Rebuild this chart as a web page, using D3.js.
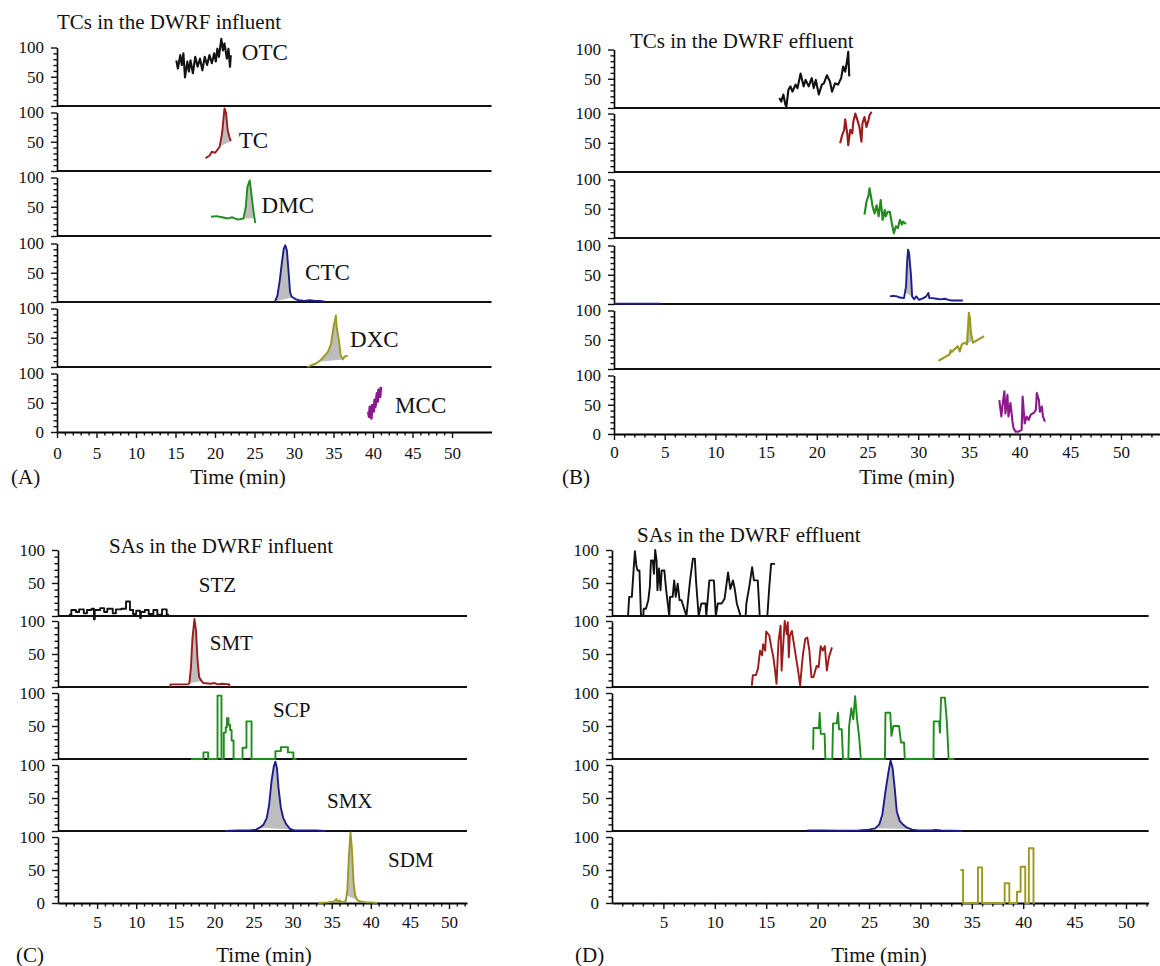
<!DOCTYPE html>
<html lang="en">
<head>
<meta charset="utf-8">
<title>TCs and SAs in the DWRF influent and effluent</title>
<script src="https://cdn.jsdelivr.net/npm/d3@7"></script>
<style>
  body { margin: 0; background: #fff; }
  svg { display: block; font-family: "Liberation Serif", "Times New Roman", serif; }
  .tick text { font-size: 17px; font-family: "Liberation Serif", "Times New Roman", serif; fill: #111; }
</style>
</head>
<body>
<script>

// ---- data: [time (min), relative abundance (%)] ----

// (A) TCs, influent
var aNames = ["OTC", "TC", "DMC", "CTC", "DXC", "MCC"];
var otcIn = [[15.1,78],[15.3,64],[15.6,87],[15.8,70],[16.0,90],[16.2,49],[16.5,76],[16.7,59],[16.9,78],[17.2,56],[17.5,84],[17.8,67],[18.1,81],[18.4,61],[18.7,84],[19.0,70],[19.3,87],[19.6,73],[19.9,90],[20.1,76],[20.3,98],[20.5,84],[20.8,115],[21.0,95],[21.2,107],[21.5,81],[21.7,98],[21.9,67],[22.0,87]];
var tcIn = [[18.8,22],[19.3,26],[19.6,33],[20.0,31],[20.3,36],[20.6,42],[20.9,65],[21.1,93],[21.2,107],[21.4,99],[21.6,70],[21.8,59],[22.0,51]];
var dmcIn = [[19.5,33],[20.2,34],[20.9,32],[21.6,30],[22.2,32],[22.9,28],[23.6,30],[23.9,50],[24.1,84],[24.4,95],[24.5,84],[24.7,61],[24.9,39],[25.1,22]];
var ctcIn = [[27.6,1],[27.9,11],[28.2,37],[28.5,71],[28.7,91],[28.9,97],[29.1,88],[29.3,54],[29.5,17],[29.7,9],[30.2,5],[30.6,3],[31.3,2],[32.0,3],[32.7,2],[33.3,2],[33.8,1]];
var dxcIn = [[31.7,0],[32.2,3],[32.8,6],[33.3,11],[33.8,18],[34.3,26],[34.7,40],[35.0,68],[35.3,88],[35.4,68],[35.7,45],[35.9,20],[36.2,13],[36.4,18],[36.8,19]];
var mccIn = [[39.4,35],[39.5,26],[39.6,43],[39.8,23],[39.9,46],[40.1,35],[40.2,55],[40.3,43],[40.5,66],[40.6,52],[40.7,72],[40.9,60],[41.0,77]];
var aLabelPos = [[23.4,79],[23.0,39],[25.9,39],[31.4,38],[37.1,34],[42.8,32]];

// (B) TCs, effluent
var otcEff = [[16.3,17],[16.5,11],[16.7,23],[16.9,6],[17.0,2],[17.2,31],[17.4,37],[17.6,28],[17.9,40],[18.1,34],[18.4,59],[18.7,37],[18.9,48],[19.2,37],[19.5,51],[19.7,34],[19.9,48],[20.2,23],[20.5,40],[20.7,42],[21.0,56],[21.3,45],[21.5,28],[21.8,42],[22.1,40],[22.4,51],[22.6,71],[22.8,62],[23.0,82],[23.1,96],[23.2,54]];
var tcEff = [[22.3,49],[22.5,63],[22.7,72],[22.8,90],[23.0,66],[23.1,46],[23.3,72],[23.5,66],[23.6,86],[23.8,100],[24.0,89],[24.2,77],[24.4,52],[24.5,83],[24.7,94],[24.9,77],[25.1,89],[25.2,97],[25.4,103]];
var dmcEff = [[24.7,40],[24.9,62],[25.1,73],[25.2,85],[25.4,65],[25.5,54],[25.7,42],[25.9,56],[26.1,37],[26.3,65],[26.5,31],[26.7,48],[26.8,37],[27.0,45],[27.2,45],[27.4,25],[27.6,8],[27.8,20],[28.0,17],[28.2,31],[28.4,23],[28.5,28],[28.8,24]];
var ctcEffLead = [[0,0.6],[4.6,0.6]];
var ctcEff = [[27.2,13],[27.5,14],[27.9,13],[28.2,11],[28.6,10],[28.8,30],[28.9,70],[29.0,93],[29.1,87],[29.3,47],[29.4,13],[29.6,8],[29.8,13],[30.1,7],[30.5,10],[30.8,13],[31.0,19],[31.1,10],[31.4,10],[31.8,9],[32.2,8],[32.6,9],[33.0,7],[33.3,6],[33.9,6],[34.4,6]];
var dxcEff = [[32.0,14],[32.4,18],[32.8,22],[33.1,25],[33.2,32],[33.3,29],[33.6,34],[33.9,39],[34.1,30],[34.3,42],[34.6,45],[34.8,42],[34.9,67],[35.0,96],[35.1,87],[35.2,62],[35.4,45],[35.6,47],[36.0,51],[36.5,56]];
var mccEff = [[38.0,58],[38.2,30],[38.3,47],[38.5,73],[38.6,35],[38.8,67],[38.9,30],[39.1,53],[39.3,21],[39.4,10],[39.6,4],[39.9,4],[40.2,7],[40.3,64],[40.5,18],[40.7,30],[40.9,24],[41.1,33],[41.4,36],[41.6,41],[41.7,70],[41.9,58],[42.0,38],[42.2,47],[42.3,30],[42.5,21]];

// (C) SAs, influent
var cNames = ["STZ", "SMT", "SCP", "SMX", "SDM"];
var stzIn = [[1.4,2],[1.7,9],[2.3,6],[2.7,10],[3.3,4],[3.7,9],[4.3,11],[4.6,-5],[4.7,9],[5.4,12],[5.9,6],[6.3,11],[7.0,4],[7.4,10],[8.1,11],[8.7,22],[9.2,9],[9.6,3],[10.0,8],[10.5,-3],[10.6,6],[11.1,9],[11.6,3],[12.2,9],[12.7,2],[13.3,10],[13.9,2],[14.2,2]];
var smtIn = [[14.3,0],[14.4,4],[16.6,4],[16.8,6],[17.0,30],[17.2,75],[17.45,103],[17.65,85],[17.85,40],[18.05,15],[18.3,10],[18.6,6],[19.5,5],[20.0,6],[20.5,4],[21.0,5],[21.9,4],[21.9,0]];
var scpIn = [[17.0,0],[18.6,10],[19.2,0],[20.4,96],[20.9,0],[21.2,40],[21.45,48],[21.6,62],[21.8,52],[22.0,44],[22.2,28],[22.45,0],[23.6,17],[24.1,57],[24.75,0],[27.8,12],[28.5,18],[29.4,10],[30.1,0],[30.5,0]];
var smxIn = [[21.4,0],[23,1],[24.5,1],[25.3,2],[25.8,5],[26.3,10],[26.7,20],[27.0,40],[27.3,75],[27.6,98],[27.8,105],[28.0,95],[28.2,65],[28.5,35],[28.8,20],[29.2,10],[29.7,3],[30.2,1],[31.5,1],[33,1],[34.2,0]];
var sdmIn = [[33.3,0],[34.5,1],[35.3,2],[35.6,6],[35.8,1],[36.0,4],[36.3,1],[36.8,3],[37.0,20],[37.2,70],[37.4,107],[37.6,80],[37.8,30],[38.0,12],[38.3,4],[38.8,2],[39.5,1],[40.0,1],[40.8,0]];
var cLabelPos = [[18.0,36],[19.4,56],[27.5,64],[34.4,35],[42.2,55]];

// (D) SAs, effluent
var stzEff = [[1.56,0],[1.67,29],[1.93,29],[2.12,74],[2.23,98],[2.38,75],[2.49,69],[2.67,69],[2.82,0],[3.04,0],[3.08,11],[3.30,11],[3.53,24],[3.68,44],[3.79,84],[3.97,84],[4.08,64],[4.20,100],[4.34,84],[4.42,39],[4.57,72],[4.72,39],[4.83,69],[5.09,69],[5.27,39],[5.57,0],[5.64,29],[5.90,29],[6.05,54],[6.20,29],[6.39,49],[6.57,24],[6.76,24],[7.02,11],[7.24,0],[7.43,29],[7.61,56],[7.87,87],[8.06,87],[8.17,54],[8.43,0],[8.69,19],[9.10,19],[9.17,0],[9.47,54],[9.91,54],[10.10,0],[10.29,19],[10.66,19],[10.95,26],[11.29,66],[11.51,41],[11.77,54],[11.96,39],[12.14,19],[12.51,0],[13.00,0],[13.07,19],[13.37,46],[13.63,74],[13.81,54],[14.18,54],[14.37,0],[15.11,0],[15.30,44],[15.48,79],[15.86,79]];
var smtEff = [[13.6,2],[13.7,18],[14.0,18],[14.2,28],[14.4,55],[14.6,48],[14.7,65],[14.9,55],[15.0,84],[15.3,78],[15.5,60],[15.7,45],[15.9,20],[16.0,5],[16.2,70],[16.4,93],[16.5,25],[16.8,100],[17.0,80],[17.1,98],[17.2,45],[17.3,78],[17.5,85],[17.7,65],[17.9,45],[18.1,25],[18.3,2],[18.5,38],[18.6,52],[18.8,73],[19.0,75],[19.2,55],[19.4,15],[19.6,15],[19.9,32],[20.1,30],[20.3,62],[20.5,55],[20.7,62],[20.9,25],[21.1,45],[21.4,60]];
var scpEff = [[19.57,14],[19.6,47],[20.13,47],[20.2,70],[20.31,38],[20.68,38],[20.76,0],[21.43,0],[21.5,54],[21.87,54],[21.98,70],[22.09,45],[22.35,45],[22.47,0],[22.99,0],[23.06,49],[23.28,77],[23.47,60],[23.65,95],[23.84,60],[24.03,35],[24.21,0],[26.55,0],[26.6,70],[27.07,70],[27.18,35],[27.37,50],[27.92,50],[28.11,25],[28.41,25],[28.48,0],[31.27,0],[31.3,57],[31.82,57],[31.9,40],[32.01,93],[32.38,93],[32.57,57],[32.75,0],[33.3,0]];
var smxEff = [[19.0,1],[20.5,1],[22,0.5],[24,1],[25.0,2],[25.6,4],[26.0,10],[26.3,25],[26.6,60],[26.9,90],[27.1,107],[27.3,95],[27.5,65],[27.7,30],[28.0,15],[28.3,10],[28.7,5],[29.2,2],[29.8,1],[31.0,1],[31.5,1.5],[32.0,1],[34.1,0]];
var sdmEff = [[33.9,50],[34.15,0],[35.6,54],[36.0,0],[38.2,30],[38.65,0],[39.4,17],[39.75,55],[40.2,0],[40.55,83],[41.0,0],[41.1,0]];

// ---- colours ----
var c = {
   black: "#111111", red: "#9a1b1b", green: "#1f8c1f",
   blue: "#1d1d8c", olive: "#9a9a1c", purple: "#8c198c"
};
var fillGray = "#bdbdbd";

// ---- panel layout ----
var panels = [
   { letter: "(A)", title: "TCs in the DWRF influent", x0: 57, x50: 452, tMax: 55, minorMax: 50, first: 0,
     bases: [106, 171, 236, 302, 367, 432], h100: 58.5, pad: 8.5,
     titleX: 57, titleY: 29, letterX: 11, bottomY: 484, xTitleX: 238, labelSize: 23,
     names: aNames, labelPos: aLabelPos,
     traces: [
        { band: 0, data: otcIn, color: c.black, w: 2.1 },
        { band: 1, data: tcIn, color: c.red, fill: [20.6, 22.0] },
        { band: 2, data: dmcIn, color: c.green, fill: [23.6, 25.0] },
        { band: 3, data: ctcIn, color: c.blue, fill: [27.6, 29.8] },
        { band: 4, data: dxcIn, color: c.olive, fill: [33.1, 36.2] },
        { band: 5, data: mccIn, color: c.purple, w: 2.6 }
     ] },
   { letter: "(B)", title: "TCs in the DWRF effluent", x0: 614, x50: 1121, tMax: 54, minorMax: 53, first: 0,
     bases: [108, 172, 238, 304, 369, 434], h100: 58.5, pad: 5.5,
     titleX: 630, titleY: 48, letterX: 562, bottomY: 484, xTitleX: 907,
     traces: [
        { band: 0, data: otcEff, color: c.black, w: 2.1 },
        { band: 1, data: tcEff, color: c.red, w: 2.1 },
        { band: 2, data: dmcEff, color: c.green, w: 2.1 },
        { band: 3, data: ctcEffLead, color: c.blue },
        { band: 3, data: ctcEff, color: c.blue, fill: [28.7, 29.45] },
        { band: 4, data: dxcEff, color: c.olive, w: 2.1, fill: [34.8, 35.35] },
        { band: 5, data: mccEff, color: c.purple, w: 2.1 }
     ] },
   { letter: "(C)", title: "SAs in the DWRF influent", x0: 58, x50: 449, tMax: 52.3, minorMax: 52, first: 5,
     bases: [616, 687, 759, 831, 903], h100: 66, pad: 6.5,
     titleX: 109, titleY: 553, letterX: 16, bottomY: 962, xTitleX: 264, labelSize: 21,
     names: cNames, labelPos: cLabelPos,
     traces: [
        { band: 0, data: stzIn, color: c.black, step: true },
        { band: 1, data: smtIn, color: c.red, fill: [16.8, 18.4] },
        { band: 2, data: scpIn, color: c.green, step: true },
        { band: 3, data: smxIn, color: c.blue, fill: [25.8, 29.9] },
        { band: 4, data: sdmIn, color: c.olive, fill: [36.9, 38.4] }
     ] },
   { letter: "(D)", title: "SAs in the DWRF effluent", x0: 612, x50: 1126, tMax: 52.2, minorMax: 52, first: 5,
     bases: [616, 687, 759, 831, 903], h100: 66, pad: 6.5,
     titleX: 637, titleY: 542, letterX: 575, bottomY: 962, xTitleX: 879,
     traces: [
        { band: 0, data: stzEff, color: c.black },
        { band: 1, data: smtEff, color: c.red },
        { band: 2, data: scpEff, color: c.green },
        { band: 3, data: smxEff, color: c.blue, fill: [25.6, 29.0] },
        { band: 4, data: sdmEff, color: c.olive, step: true }
     ] }
];

var svg = d3.select("body").append("svg")
   .attr("width", 1160)
   .attr("height", 966);

// value of a trace at time t (linear)
function valueAt(data, t) {
   for (var i = 1; i < data.length; i++) {
      if (data[i][0] >= t) {
         var a = data[i - 1], b = data[i];
         var f = (t - a[0]) / ((b[0] - a[0]) || 1);
         return a[1] + f * (b[1] - a[1]);
      }
   }
   return data[data.length - 1][1];
}

function drawPanel(p) {
   var g = svg.append("g");
   var perMin = (p.x50 - p.x0) / 50;
   var x = d3.scaleLinear().domain([0, p.tMax]).range([p.x0, p.x0 + p.tMax * perMin]);
   var last = p.bases.length - 1;
   var ys = p.bases.map(function(b) {
      return d3.scaleLinear().domain([0, 100]).range([b, b - p.h100]);
   });

   // band separators
   p.bases.slice(0, last).forEach(function(b) {
      g.append("line")
         .attr("x1", x(0)).attr("x2", x(p.tMax))
         .attr("y1", b).attr("y2", b)
         .attr("stroke", "#111").attr("stroke-width", 2);
   });

   // y axes, one per band
   ys.forEach(function(y, i) {
      g.append("g")
         .attr("transform", "translate(" + x(0) + ",0)")
         .call(d3.axisLeft(y).tickValues([10, 20, 30, 40, 60, 70, 80, 90]).tickSize(3.5).tickFormat(""))
         .call(function(s) { s.select(".domain").remove(); });
      g.append("g")
         .attr("transform", "translate(" + x(0) + ",0)")
         .call(d3.axisLeft(y).tickValues([0, 50, 100]).tickSize(6).tickSizeOuter(0).tickPadding(7)
            .tickFormat(function(v) { return (v === 0 && i !== last) ? "" : v; }))
         .call(function(s) { s.select(".domain").attr("stroke-width", 1.6); });
   });

   // x axis
   var xb = p.bases[last];
   g.append("g")
      .attr("transform", "translate(0," + xb + ")")
      .call(d3.axisBottom(x).tickValues(d3.range(1, p.minorMax + 1).filter(function(v) { return v % 5; }))
         .tickSize(3.5).tickFormat(""))
      .call(function(s) { s.select(".domain").remove(); });
   g.append("g")
      .attr("transform", "translate(0," + xb + ")")
      .call(d3.axisBottom(x).tickValues(d3.range(p.first, 51, 5)).tickSize(6).tickSizeOuter(0).tickPadding(p.pad))
      .call(function(s) { s.select(".domain").attr("stroke-width", 2); });

   g.selectAll(".tick line").attr("stroke", "#111").attr("stroke-width", 1.4);

   // traces
   p.traces.forEach(function(tr) {
      var y = ys[tr.band];
      var line = d3.line()
         .x(function(d) { return x(d[0]); })
         .y(function(d) { return y(d[1]); })
         .curve(tr.step ? d3.curveStepAfter : d3.curveLinear);

      if (tr.fill) {
         var t0 = tr.fill[0], t1 = tr.fill[1];
         var pts = [[t0, valueAt(tr.data, t0)]]
            .concat(tr.data.filter(function(d) { return d[0] > t0 && d[0] < t1; }))
            .concat([[t1, valueAt(tr.data, t1)]]);
         g.append("path")
            .attr("d", d3.line().x(function(d) { return x(d[0]); }).y(function(d) { return y(d[1]); })(pts) + "Z")
            .attr("fill", fillGray);
      }

      g.append("path")
         .datum(tr.data)
         .attr("d", line)
         .attr("fill", "none")
         .attr("stroke", tr.color)
         .attr("stroke-width", tr.w || 1.9)
         .attr("stroke-linejoin", "round");
   });

   // compound labels
   if (p.names) {
      p.names.forEach(function(n, i) {
         g.append("text")
            .attr("x", x(p.labelPos[i][0]))
            .attr("y", ys[i](p.labelPos[i][1]))
            .attr("font-size", p.labelSize + "px")
            .attr("fill", "#111")
            .text(n);
      });
   }

   // titles
   g.append("text")
      .attr("x", p.titleX).attr("y", p.titleY)
      .attr("font-size", "21px").attr("fill", "#111")
      .text(p.title);

   g.append("text")
      .attr("x", p.letterX).attr("y", p.bottomY)
      .attr("font-size", "21px").attr("fill", "#111")
      .text(p.letter);

   g.append("text")
      .attr("x", p.xTitleX).attr("y", p.bottomY)
      .attr("text-anchor", "middle")
      .attr("font-size", "21px").attr("fill", "#111")
      .text("Time (min)");
}

panels.forEach(drawPanel);

</script>
</body>
</html>
